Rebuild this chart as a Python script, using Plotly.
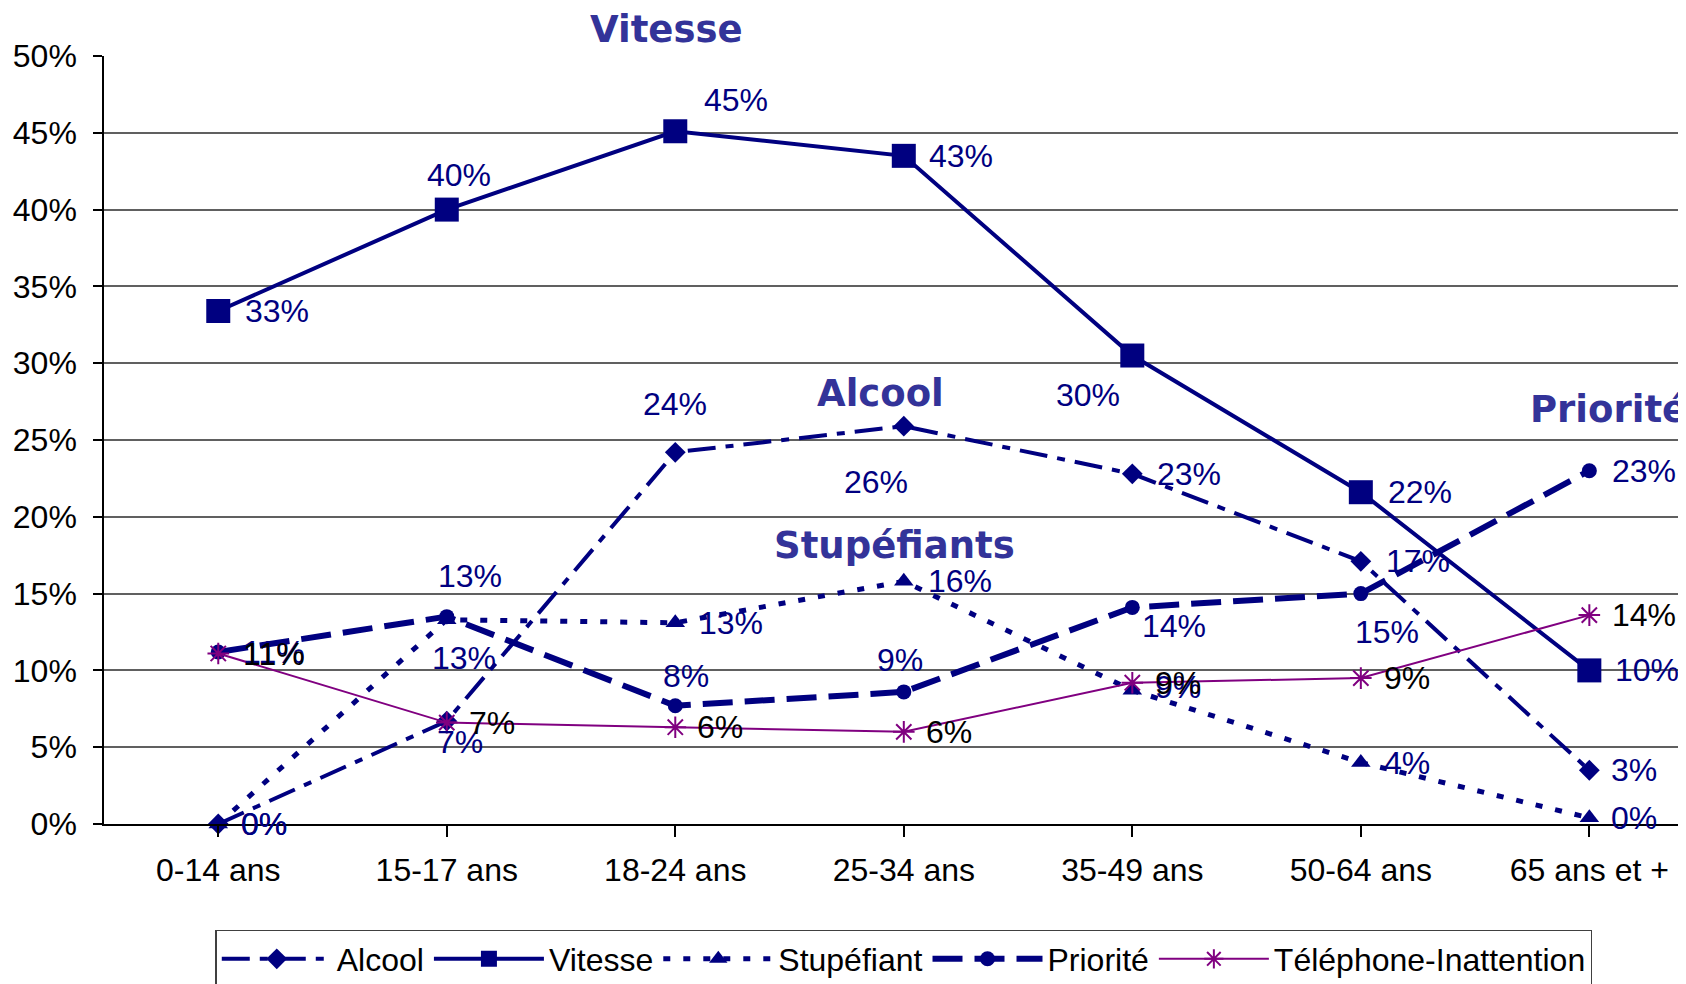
import plotly.graph_objects as go

# ---- données ----
categories = ['0-14 ans', '15-17 ans', '18-24 ans', '25-34 ans',
              '35-49 ans', '50-64 ans', '65 ans et +']

alcool = [0.0, 0.067, 0.242, 0.259, 0.228, 0.171, 0.035]
vitesse = [0.334, 0.400, 0.451, 0.435, 0.305, 0.216, 0.100]
stupefiant = [0.0, 0.133, 0.131, 0.158, 0.087, 0.040, 0.004]
priorite = [0.112, 0.135, 0.077, 0.086, 0.141, 0.150, 0.230]
telephone = [0.111, 0.066, 0.063, 0.060, 0.092, 0.095, 0.136]

alcool_lbl = ['0%', '7%', '24%', '26%', '23%', '17%', '3%']
vitesse_lbl = ['33%', '40%', '45%', '43%', '30%', '22%', '10%']
stupefiant_lbl = ['0%', '13%', '13%', '16%', '9%', '4%', '0%']
priorite_lbl = ['11%', '13%', '8%', '9%', '14%', '15%', '23%']
telephone_lbl = ['11%', '7%', '6%', '6%', '9%', '9%', '14%']

NAVY = '#000080'
PURPLE = '#800080'
TITLE_BLUE = '#333399'
FONT = 'Liberation Sans, Arial, sans-serif'

# décalages des étiquettes (px, x vers la droite, y vers le haut)
offsets = {
    'Alcool': [(46, 0), (13, -21), (0, 48), (-28, -56), (57, 0), (57, 0), (45, 0)],
    'Vitesse': [(59, 0), (12, 35), (61, 31), (57, 0), (-44, -39), (59, 0), (58, 0)],
    'Stupéfiant': [(46, 0), (23, 44), (56, 0), (56, 0), (46, 3), (46, 0), (45, 0)],
    'Priorité': [(56, 0), (17, -41), (11, 30), (-4, 32), (42, -19), (26, -38), (55, 0)],
    'Téléphone-Inattention': [(56, 0), (45, 0), (45, 0), (45, 0), (46, 0), (46, 0), (55, 0)],
}

series = [
    ('Alcool', alcool, alcool_lbl, NAVY,
     dict(width=4, dash='28px,10px,8px,10px'), dict(symbol='diamond', size=16)),
    ('Vitesse', vitesse, vitesse_lbl, NAVY,
     dict(width=4), dict(symbol='square', size=24)),
    ('Stupéfiant', stupefiant, stupefiant_lbl, NAVY,
     dict(width=5, dash='7px,13px'), dict(symbol='triangle-up', size=17)),
    ('Priorité', priorite, priorite_lbl, NAVY,
     dict(width=6, dash='30px,12px'), dict(symbol='circle', size=15)),
    ('Téléphone-Inattention', telephone, telephone_lbl, PURPLE,
     dict(width=2), dict(symbol='asterisk-open', size=18, line=dict(width=2, color=PURPLE))),
]

x_idx = list(range(len(categories)))

fig = go.Figure()
annotations = []
for name, vals, lbls, color, line, marker in series:
    line = dict(color=color, **line)
    marker = dict(color=color, **marker)
    fig.add_trace(go.Scatter(
        x=x_idx, y=vals, mode='lines+markers', name=name,
        line=line, marker=marker, cliponaxis=False,
    ))
    txt_color = 'black' if name == 'Téléphone-Inattention' else NAVY
    for i, (v, t) in enumerate(zip(vals, lbls)):
        dx, dy = offsets[name][i]
        annotations.append(dict(
            x=i, y=v, text=t, showarrow=False, xref='x', yref='y',
            xshift=dx, yshift=dy, xanchor='center', yanchor='middle',
            font=dict(family=FONT, size=32, color=txt_color),
        ))

# grands titres de séries
big = [('Vitesse', 1.96, 1.034, 'center', 'paper'),
       ('Alcool', 2.90, 0.280, 'center', 'y'),
       ('Stupéfiants', 2.96, 0.1816, 'center', 'y'),
       ('Priorité', 5.73, 0.2697, 'left', 'y')]
for t, x, y, anc, yref in big:
    annotations.append(dict(
        x=x, y=y, text=f'<b>{t}</b>', showarrow=False, xref='x', yref=yref,
        xanchor=anc, yanchor='middle',
        font=dict(family='DejaVu Sans, Verdana, sans-serif', size=37, color=TITLE_BLUE),
    ))

fig.update_layout(
    width=1686, height=984,
    margin=dict(l=96, r=0, t=48, b=168),
    paper_bgcolor='white', plot_bgcolor='white',
    font=dict(family=FONT, size=32, color='black'),
    annotations=annotations,
    showlegend=True,
    legend=dict(
        orientation='h', x=0.503, xanchor='center', y=-0.138, yanchor='top',
        bordercolor='#404040', borderwidth=1.5, itemwidth=110,
        font=dict(family=FONT, size=32, color='black'),
        traceorder='normal',
    ),
)
fig.update_xaxes(
    tickmode='array', tickvals=x_idx, ticktext=categories,
    range=[-0.5, 6.458], showgrid=False, tickson='boundaries',
    ticks='outside', ticklen=11, tickcolor='black', tickwidth=1.5,
    showline=True, linecolor='black', linewidth=2,
    tickfont=dict(family=FONT, size=32, color='black'), ticklabelstandoff=6,
    zeroline=False,
)
fig.update_yaxes(
    range=[0, 0.5], dtick=0.05, tickformat='.0%',
    showgrid=True, gridcolor='#606060', gridwidth=1.5,
    ticks='outside', ticklen=9, tickcolor='black', tickwidth=1.5,
    showline=True, linecolor='black', linewidth=1.5,
    tickfont=dict(family=FONT, size=32, color='black'), ticklabelstandoff=10,
    zeroline=False,
)

fig.write_html('out.html')
